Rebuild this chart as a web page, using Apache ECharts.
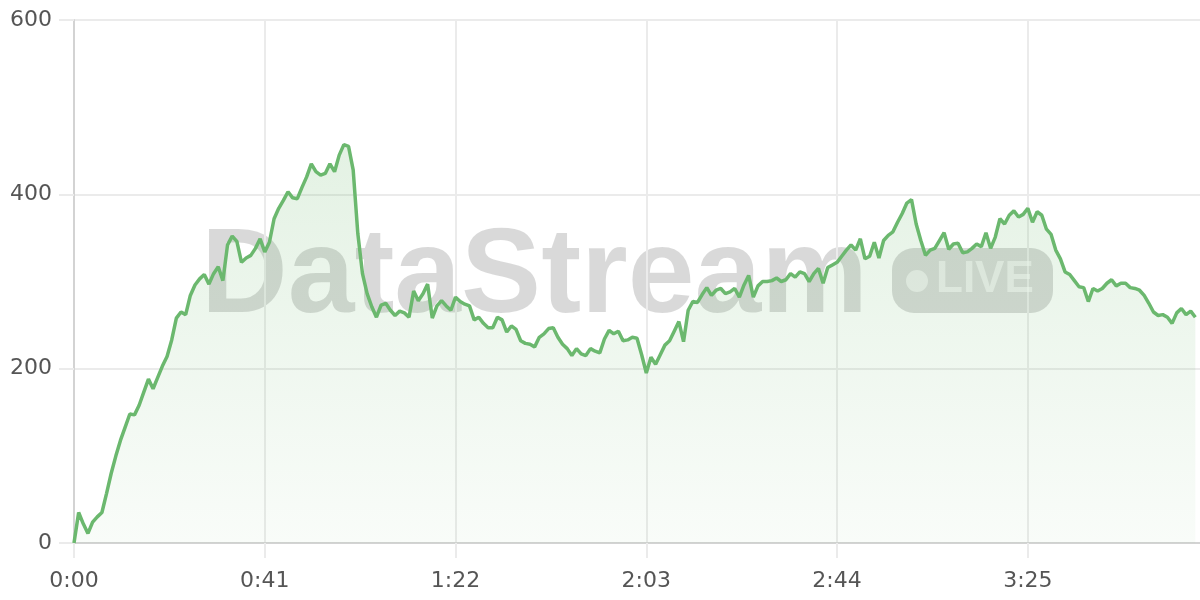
<!DOCTYPE html>
<html>
<head>
<meta charset="utf-8">
<script src="https://cdn.jsdelivr.net/npm/echarts@6/dist/echarts.min.js"></script>
<style>
    html, body { margin: 0; padding: 0; background: #fff; }
    #chart { width: 1200px; height: 600px; }
</style>
</head>
<body>
<div id="chart"></div>
<script>
/* 数据: 每秒一个点 (0:00 - 4:01) */
var seconds = [];
var values = [
    0, 35, 22, 11, 24, 30, 35, 57, 80, 100,
    118, 133, 148, 147, 158, 173, 188, 177, 190, 203,
    214, 233, 258, 265, 262, 284, 296, 303, 308, 297,
    309, 317, 301, 342, 352, 346, 322, 327, 330, 338,
    349,
    334, 345, 372, 384, 393, 403, 396, 395, 408, 420,
    435, 426, 422, 424, 435, 426, 445, 457, 455, 428,
    355, 309, 286, 271, 259, 273, 275, 267, 261, 266,
    264, 259, 289, 278, 286, 297, 258, 272, 278, 272,
    267, 282, 277, 274, 272, 256, 259, 252, 247, 247,
    259, 256, 242, 249, 245, 232, 229, 228, 225, 236,
    240, 246, 247, 236, 228, 223, 215, 223, 217, 215,
    223, 220, 218, 234, 244, 240, 243, 232, 233, 236,
    235, 216, 195, 213, 205, 216,
    227, 232, 243, 254,
    231, 267, 277, 276, 285, 293, 284, 290, 292, 286,
    288, 292, 282, 296, 307, 282, 295, 300, 300, 301,
    304, 300, 302, 309, 305, 311, 309, 300, 309, 315,
    298, 316, 319, 322,
    329, 336, 342, 336, 349, 326,
    329, 345, 327, 347, 353, 357, 368, 378, 390, 394,
    366, 347, 330, 336, 338, 347, 356, 337, 343, 344,
    333, 334, 338, 343, 340, 356, 338, 351, 372, 366,
    376, 381, 374, 377, 384, 368, 380, 376, 360, 354,
    336, 326, 311, 308, 301, 294, 293, 277, 292, 289,
    292, 298, 302, 295, 298, 298, 293, 292, 290, 284,
    275, 265, 261, 262, 259, 252, 264, 269, 262, 266, 259
];
var yTicks = [0, 200, 400, 600];
var xTickStep = 41;
var watermarkText = 'DataStream';
var badgeText = 'LIVE';

for (var i = 0; i < values.length; i++) {
    seconds.push(i);
}

/* 0:41 这种格式 */
function formatTime(v) {
    var m = Math.floor(v / 60);
    var s = Math.round(v % 60);
    return m + ':' + (s < 10 ? '0' : '') + s;
}

var points = seconds.map(function (t, i) {
    return [t, values[i]];
});

var labelStyle = {
    color: '#555',
    fontSize: 22,
    fontFamily: 'DejaVu Sans'
};
var gridColor = '#ebebeb';
var axisColor = '#d3d3d3';
var wmColor = 'rgba(0,0,0,0.15)';
var wmInner = 'rgba(255,255,255,0.55)';

var chart = echarts.init(document.getElementById('chart'));

chart.setOption({
    animation: false,
    backgroundColor: '#fff',
    grid: { left: 74, right: 0, top: 20, bottom: 57 },
    /* 水印 */
    graphic: [
        {
            type: 'text', z: 0, silent: true,
            x: 201, y: 279,
            style: {
                text: watermarkText,
                font: 'bold 120px "Liberation Sans"',
                fill: wmColor,
                verticalAlign: 'middle'
            }
        },
        {
            type: 'rect', z: 0, silent: true,
            shape: { x: 892, y: 248, width: 161, height: 65, r: 22 },
            style: { fill: wmColor }
        },
        {
            type: 'circle', z: 1, silent: true,
            shape: { cx: 917, cy: 281, r: 11 },
            style: { fill: wmInner }
        },
        {
            type: 'text', z: 1, silent: true,
            x: 936, y: 280,
            style: {
                text: badgeText,
                font: 'bold 44px "Liberation Sans"',
                fill: wmInner,
                verticalAlign: 'middle'
            }
        }
    ],
    xAxis: {
        type: 'value',
        min: seconds[0],
        max: seconds[seconds.length - 1] + 1,
        interval: xTickStep,
        axisLine: { show: true, lineStyle: { color: axisColor, width: 2 } },
        axisTick: { show: true, length: 15, lineStyle: { color: gridColor, width: 2 } },
        axisLabel: {
            color: labelStyle.color,
            fontSize: labelStyle.fontSize,
            fontFamily: labelStyle.fontFamily,
            margin: 27,
            showMaxLabel: false,
            formatter: formatTime
        },
        splitLine: { show: true, showMaxLine: false, lineStyle: { color: gridColor, width: 2 } }
    },
    yAxis: {
        type: 'value',
        min: yTicks[0],
        max: yTicks[yTicks.length - 1],
        interval: yTicks[1] - yTicks[0],
        axisLine: { show: true, lineStyle: { color: axisColor, width: 2 } },
        axisTick: { show: true, length: 15, lineStyle: { color: gridColor, width: 2 } },
        axisLabel: {
            color: labelStyle.color,
            fontSize: labelStyle.fontSize,
            fontFamily: labelStyle.fontFamily,
            margin: 22
        },
        splitLine: { show: true, lineStyle: { color: gridColor, width: 2 } }
    },
    series: [{
        type: 'line',
        z: 3,
        data: points,
        showSymbol: false,
        symbol: 'none',
        lineStyle: { color: '#6bb86e', width: 3.5 },
        areaStyle: {
            color: new echarts.graphic.LinearGradient(0, 0, 0, 1, [
                { offset: 0, color: 'rgba(110,185,110,0.27)' },
                { offset: 1, color: 'rgba(110,185,110,0.06)' }
            ])
        }
    }]
});
</script>
</body>
</html>
